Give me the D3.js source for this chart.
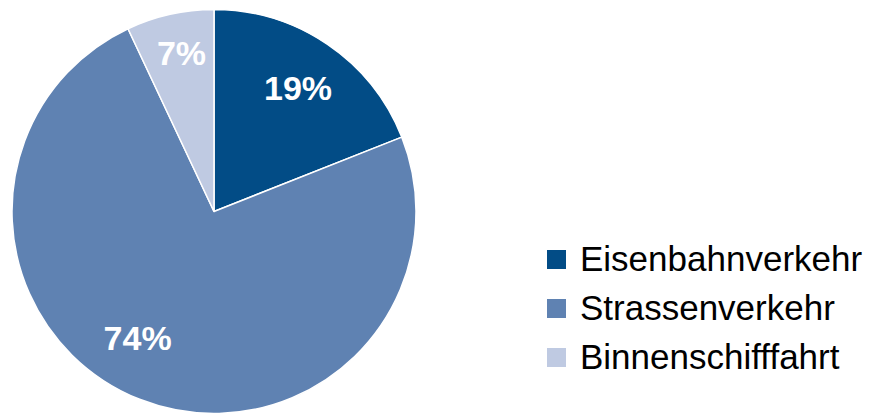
<!DOCTYPE html>
<html>
<head>
<meta charset="utf-8">
<script src="https://cdn.jsdelivr.net/npm/d3@7"></script>
<style>
	body { margin: 0; background: #fff; }
	svg { display: block; }
</style>
</head>
<body>
<div id="chart"></div>
<script>
// data
const categories = ["Eisenbahnverkehr", "Strassenverkehr", "Binnenschifffahrt"];
const shares = [19, 74, 7];
const colors = ["#024c86", "#5f82b2", "#bfcae2"];

document.addEventListener("DOMContentLoaded", function () {
	draw();
});

function draw() {
	const w = 879;
	const h = 413;
	const cx = 214;
	const cy = 211.5;
	const r = 202;

	// label placement (fraction of radius, angle nudge in degrees)
	const labelR = [0.74, 0.73, 0.8];
	const labelNudge = [0, 9.6, 1];

	const svg = d3.select("#chart")
		.append("svg")
		.attr("width", w)
		.attr("height", h);

	const pie = d3.pie().sort(null).value(d => d);
	const arcs = pie(shares);
	const arc = d3.arc().innerRadius(0).outerRadius(r);

	const g = svg.append("g").attr("transform", `translate(${cx},${cy})`);

	g.selectAll("path")
		.data(arcs)
		.enter()
		.append("path")
		.attr("d", arc)
		.attr("fill", (d, i) => colors[i])
		.attr("stroke", "#fff")
		.attr("stroke-width", 1.5)
		.attr("stroke-linejoin", "round");

	const total = d3.sum(shares);
	g.selectAll("text.pct")
		.data(arcs)
		.enter()
		.append("text")
		.attr("class", "pct")
		.attr("transform", function (d, i) {
			const a = (d.startAngle + d.endAngle) / 2 + labelNudge[i] * Math.PI / 180;
			const rr = r * labelR[i];
			return `translate(${rr * Math.sin(a)},${-rr * Math.cos(a)})`;
		})
		.attr("text-anchor", "middle")
		.attr("dy", "0.36em")
		.attr("fill", "#fff")
		.attr("font-family", "'Liberation Sans', Arial, sans-serif")
		.attr("font-weight", "bold")
		.attr("font-size", 34)
		.text(d => Math.round(d.value / total * 100) + "%");

	// legend
	const legend = svg.append("g").attr("transform", "translate(547,271)");
	const rowY = d3.scalePoint().domain(categories).range([0, 98]);

	const item = legend.selectAll("g")
		.data(categories)
		.enter()
		.append("g")
		.attr("transform", d => `translate(0,${rowY(d)})`);

	item.append("rect")
		.attr("x", 0)
		.attr("y", -21)
		.attr("width", 19)
		.attr("height", 19)
		.attr("fill", (d, i) => colors[i]);

	item.append("text")
		.attr("x", 33)
		.attr("y", 0)
		.attr("font-family", "'Liberation Sans', Arial, sans-serif")
		.attr("font-size", 35)
		.attr("fill", "#000")
		.text(d => d);
}
</script>
</body>
</html>
